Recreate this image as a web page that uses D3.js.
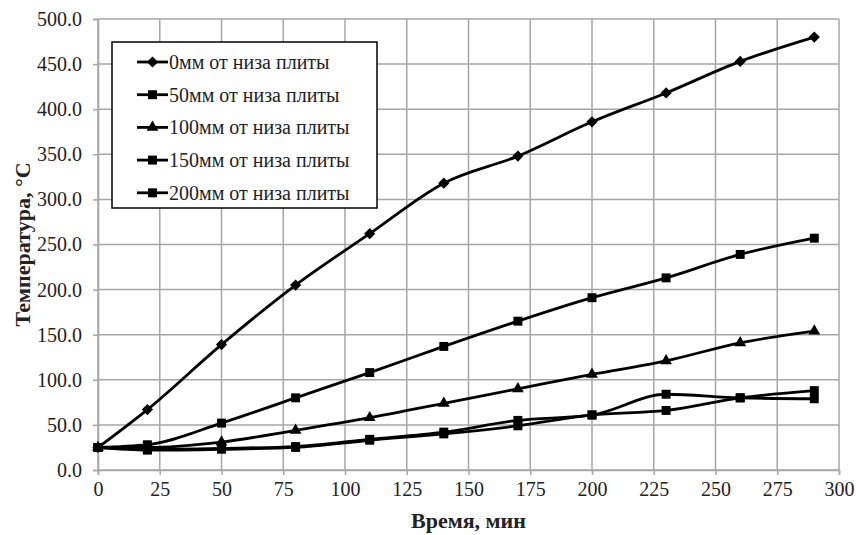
<!DOCTYPE html>
<html>
<head>
<meta charset="utf-8">
<script src="https://cdn.jsdelivr.net/npm/d3@7"></script>
<style>
  body { margin: 0; background: #fff; }
  svg { display: block; }
</style>
</head>
<body>
<div id="chart"></div>
<script>
// time points (minutes)
const time = [0, 20, 50, 80, 110, 140, 170, 200, 230, 260, 290];

// temperatures for each depth from the slab bottom
const t0   = [25, 67, 139, 205, 262, 318, 348, 386, 418, 453, 480];
const t50  = [25, 28, 52, 80, 108, 137, 165, 191, 213, 239, 257];
const t100 = [25, 25, 31, 44, 58, 74, 90, 106, 121, 141, 154];
const t150 = [25, 23, 24, 26, 34, 42, 55, 61, 84, 80, 79];
const t200 = [25, 22, 23, 25, 33, 40, 49, 61, 66, 80, 88];

const seriesNames = ["0мм от низа плиты", "50мм от низа плиты", "100мм от низа плиты",
                     "150мм от низа плиты", "200мм от низа плиты"];
const seriesValues = [t0, t50, t100, t150, t200];
const seriesMarkers = ["diamond", "square", "triangle", "square", "square"];

const xTicks = d3.range(0, 301, 25);
const yTicks = d3.range(0, 501, 50);

const font = "'Liberation Serif', 'Times New Roman', serif";

// set the dimensions and margins of the graph
const width = 856, height = 535;
const margin = {top: 19, right: 17, bottom: 65, left: 98};

const svg = d3.select("#chart")
  .append("svg")
    .attr("width", width)
    .attr("height", height);

const x = d3.scaleLinear().domain([0, 300]).range([margin.left, width - margin.right]);
const y = d3.scaleLinear().domain([0, 500]).range([height - margin.bottom, margin.top]);

const gridColor = "#a6a6a6";

// gridlines
svg.append("g")
  .selectAll("line")
  .data(xTicks)
  .join("line")
    .attr("x1", d => x(d)).attr("x2", d => x(d))
    .attr("y1", y(0)).attr("y2", y(500))
    .attr("stroke", gridColor).attr("stroke-width", 1.5);

svg.append("g")
  .selectAll("line")
  .data(yTicks)
  .join("line")
    .attr("x1", x(0)).attr("x2", x(300))
    .attr("y1", d => y(d)).attr("y2", d => y(d))
    .attr("stroke", gridColor).attr("stroke-width", 1.5);

// axes
const xAxis = svg.append("g")
  .attr("transform", `translate(0,${y(0)})`)
  .call(d3.axisBottom(x).tickValues(xTicks).tickSize(5).tickPadding(7).tickFormat(d3.format("d")));

const yAxis = svg.append("g")
  .attr("transform", `translate(${x(0)},0)`)
  .call(d3.axisLeft(y).tickValues(yTicks).tickSize(5).tickPadding(11).tickFormat(d3.format(".1f")));

[xAxis, yAxis].forEach(g => {
  g.attr("font-family", null).attr("font-size", null);
  g.select(".domain").attr("stroke", gridColor).attr("stroke-width", 1.5);
  g.selectAll(".tick line").attr("stroke", gridColor).attr("stroke-width", 1.5);
  g.selectAll(".tick text")
    .attr("fill", "#222")
    .style("font-family", font)
    .style("font-size", "20px");
});

// axis titles
svg.append("text")
  .attr("x", (x(0) + x(300)) / 2)
  .attr("y", 528)
  .attr("text-anchor", "middle")
  .style("font-family", font)
  .style("font-size", "22px")
  .style("font-weight", "bold")
  .attr("fill", "#222")
  .text("Время, мин");

svg.append("text")
  .attr("transform", `translate(30,${(y(0) + y(500)) / 2}) rotate(-90)`)
  .attr("text-anchor", "middle")
  .style("font-family", font)
  .style("font-size", "22px")
  .style("font-weight", "bold")
  .attr("fill", "#222")
  .text("Температура, °С");

// marker symbols
const symbolFor = {
  diamond: d3.symbol().type(d3.symbolDiamond2).size(80),
  square: d3.symbol().type(d3.symbolSquare).size(80),
  triangle: d3.symbol().type(d3.symbolTriangle).size(60)
};

const line = d3.line()
  .x((d, i) => x(time[i]))
  .y(d => y(d))
  .curve(d3.curveMonotoneX);

// draw lines, last series first so the first one sits on top
seriesValues.slice().reverse().forEach((vals, k) => {
  const idx = seriesValues.length - 1 - k;
  svg.append("path")
    .datum(vals)
    .attr("d", line)
    .attr("fill", "none")
    .attr("stroke", "#000")
    .attr("stroke-width", 2.8);

  svg.append("g")
    .selectAll("path")
    .data(vals)
    .join("path")
      .attr("transform", (d, i) => `translate(${x(time[i])},${y(d)})`)
      .attr("d", symbolFor[seriesMarkers[idx]]())
      .attr("fill", "#000");
});

// Handmade legend
const legend = svg.append("g");
legend.append("rect")
  .attr("x", 112).attr("y", 42)
  .attr("width", 265).attr("height", 166)
  .attr("fill", "#fff")
  .attr("stroke", "#000")
  .attr("stroke-width", 1.5);

seriesNames.forEach((name, i) => {
  const ly = 62 + i * 32.7;
  legend.append("line")
    .attr("x1", 137).attr("x2", 168)
    .attr("y1", ly).attr("y2", ly)
    .attr("stroke", "#000").attr("stroke-width", 2.8);
  legend.append("path")
    .attr("transform", `translate(152.5,${ly})`)
    .attr("d", symbolFor[seriesMarkers[i]]())
    .attr("fill", "#000");
  legend.append("text")
    .attr("x", 169).attr("y", ly)
    .attr("dominant-baseline", "central")
    .style("font-family", font)
    .style("font-size", "20px")
    .attr("fill", "#222")
    .text(name);
});
</script>
</body>
</html>
